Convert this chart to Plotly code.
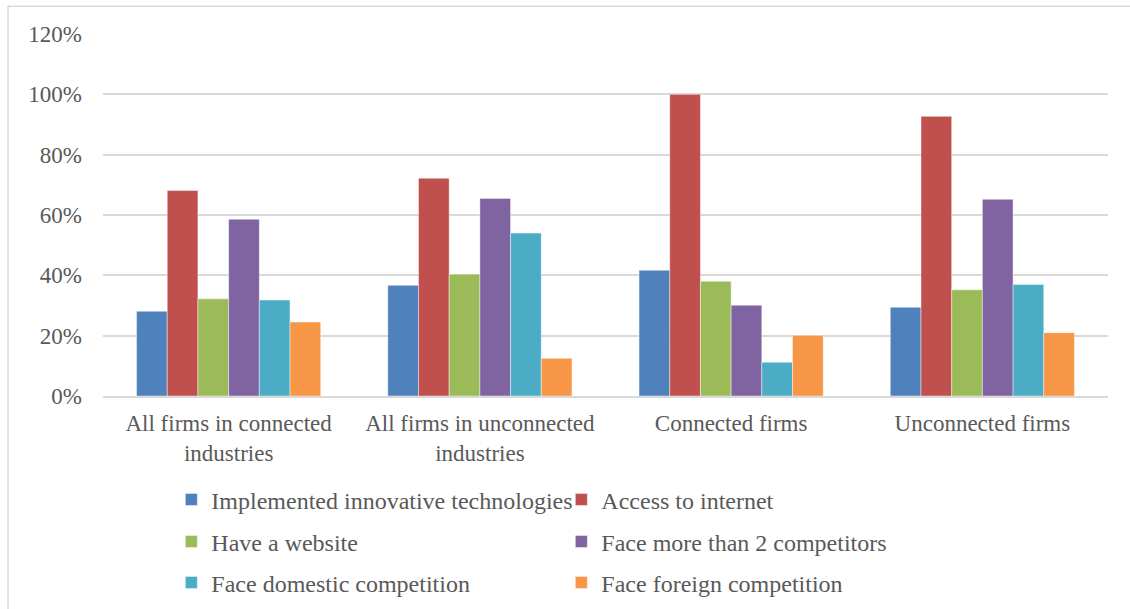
import plotly.graph_objects as go

# Firm groups shown along the x axis
categories = [
    "All firms in connected<br>industries",
    "All firms in unconnected<br>industries",
    "Connected firms",
    "Unconnected firms",
]

# Share of firms (fraction) for each indicator
implemented_innovative = [0.281, 0.367, 0.417, 0.294]
access_to_internet = [0.681, 0.722, 1.000, 0.927]
have_website = [0.322, 0.404, 0.380, 0.352]
more_than_2_competitors = [0.586, 0.655, 0.301, 0.652]
domestic_competition = [0.318, 0.540, 0.112, 0.370]
foreign_competition = [0.245, 0.125, 0.201, 0.210]

series_names = [
    "Implemented innovative technologies",
    "Access to internet",
    "Have a website",
    "Face more than 2 competitors",
    "Face domestic competition",
    "Face foreign competition",
]
series_values = [
    implemented_innovative,
    access_to_internet,
    have_website,
    more_than_2_competitors,
    domestic_competition,
    foreign_competition,
]
colors = ["#4f81bd", "#c0504d", "#9bbb59", "#8064a2", "#4bacc6", "#f79646"]
legend_rows = ["legend", "legend", "legend2", "legend2", "legend3", "legend3"]

FONT = "Liberation Serif"
TEXT_COLOR = "#595959"
GRID = "#d9d9d9"

fig = go.Figure()
for name, vals, col, lg in zip(series_names, series_values, colors, legend_rows):
    fig.add_trace(
        go.Bar(
            name=name,
            x=categories,
            y=vals,
            marker=dict(color=col, line=dict(color="rgba(255,255,255,0.55)", width=0.8)),
            legend=lg,
        )
    )

legend_common = dict(
    orientation="h",
    x=0.068,
    xanchor="left",
    yanchor="middle",
    entrywidth=345,
    font=dict(family=FONT, size=24, color=TEXT_COLOR),
    bgcolor="rgba(0,0,0,0)",
    itemclick=False,
)

fig.update_layout(
    width=1130,
    height=609,
    margin=dict(l=103, r=22, t=34, b=213, autoexpand=False),
    paper_bgcolor="white",
    plot_bgcolor="white",
    barmode="group",
    bargap=0.267,
    bargroupgap=0,
    font=dict(family=FONT, size=23, color=TEXT_COLOR),
    legend=dict(legend_common, y=-0.287),
    legend2=dict(legend_common, y=-0.403),
    legend3=dict(legend_common, y=-0.516),
    xaxis=dict(
        showgrid=False,
        showline=True,
        linecolor=GRID,
        linewidth=1.5,
        ticks="",
        tickfont=dict(family=FONT, size=23, color=TEXT_COLOR),
        ticklabelstandoff=6,
    ),
    yaxis=dict(
        range=[0, 1.2],
        dtick=0.2,
        tickformat=".0%",
        showgrid=True,
        gridcolor=GRID,
        gridwidth=1.5,
        zeroline=False,
        showline=False,
        ticks="",
        tickfont=dict(family=FONT, size=23, color=TEXT_COLOR),
        ticklabelstandoff=20,
    ),
    shapes=[
        dict(
            type="rect",
            xref="paper",
            yref="paper",
            x0=-0.0945,
            x1=1.05,
            y0=-0.65,
            y1=1.077,
            line=dict(color=GRID, width=1.5),
            fillcolor="rgba(0,0,0,0)",
            layer="below",
        )
    ],
)

fig.write_html("out.html")
